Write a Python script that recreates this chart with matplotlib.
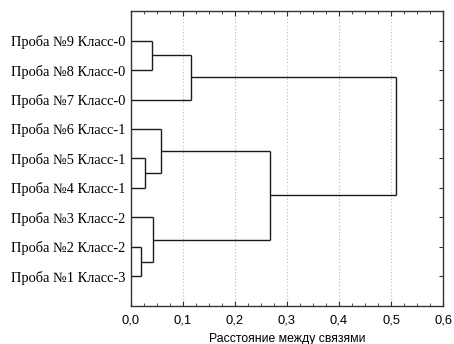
import matplotlib
matplotlib.use("Agg")
import matplotlib.pyplot as plt
from matplotlib.ticker import MultipleLocator, FuncFormatter

# Leaf labels (bottom to top, positions 1..9)
leaf_labels = ["Проба №1 Класс-3", "Проба №2 Класс-2", "Проба №3 Класс-2",
               "Проба №4 Класс-1", "Проба №5 Класс-1", "Проба №6 Класс-1",
               "Проба №7 Класс-0", "Проба №8 Класс-0", "Проба №9 Класс-0"]
# Merges: (child_a, child_b, distance); leaves are 0..8, clusters numbered from 9
merge_a = [1, 4, 8, 2, 5, 11, 13, 14]
merge_b = [0, 3, 7, 9, 10, 6, 12, 15]
merge_h = [0.019, 0.026, 0.040, 0.043, 0.058, 0.115, 0.268, 0.510]
x_ticks = [0.0, 0.1, 0.2, 0.3, 0.4, 0.5, 0.6]
x_label = "Расстояние между связями"

fig = plt.figure(figsize=(4.54, 3.44), dpi=100)
ax = fig.add_axes([0.2885, 0.1105, 0.6873, 0.8575])

n = len(leaf_labels)
ypos = {i: i + 1 for i in range(n)}
height = {i: 0.0 for i in range(n)}
lc = "#1a1a1a"
for k, (a, b, h) in enumerate(zip(merge_a, merge_b, merge_h)):
    cid = n + k
    for c in (a, b):
        ax.plot([height[c], h], [ypos[c], ypos[c]], color=lc, lw=1.0, solid_capstyle="butt")
    ax.plot([h, h], [ypos[a], ypos[b]], color=lc, lw=1.0, solid_capstyle="butt")
    ypos[cid] = (ypos[a] + ypos[b]) / 2
    height[cid] = h

ax.set_xlim(0, 0.6)
ax.set_ylim(0, n + 1)
ax.xaxis.set_major_locator(MultipleLocator(0.1))
ax.xaxis.set_minor_locator(MultipleLocator(0.025))
ax.xaxis.set_major_formatter(FuncFormatter(lambda v, p: f"{v:.1f}".replace(".", ",")))
ax.set_yticks(range(1, n + 1))
ax.set_yticklabels(leaf_labels, family="Liberation Serif", fontsize=10.4)
ax.tick_params(axis="y", left=False, right=True, direction="in", length=3, pad=4, color="#333333")
ax.tick_params(axis="x", which="both", top=True, bottom=True, direction="in", color="#333333")
ax.tick_params(axis="x", which="major", length=3.5, pad=6)
ax.tick_params(axis="x", which="minor", length=2)
for lab in ax.get_xticklabels():
    lab.set_family("Liberation Sans")
    lab.set_fontsize(9.3)
for x in x_ticks[1:-1]:
    ax.axvline(x, color="#bbbbbb", lw=0.8, ls=(0, (1, 2)), zorder=0)
for s in ax.spines.values():
    s.set_color("#333333")
    s.set_linewidth(1.0)
ax.set_xlabel(x_label, family="Liberation Sans", fontsize=8.8, labelpad=5)

fig.savefig("out.png", dpi=100)
